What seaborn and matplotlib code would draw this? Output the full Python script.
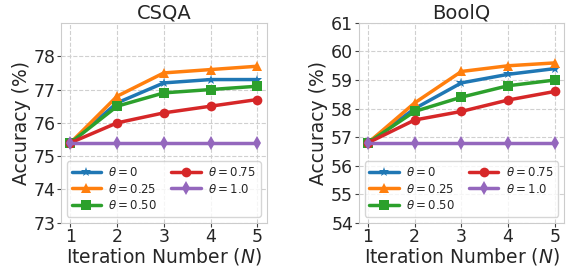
import matplotlib
matplotlib.use("Agg")
import matplotlib.pyplot as plt
import seaborn as sns
import pandas as pd

iterations = [1, 2, 3, 4, 5]
theta_labels = [r"$\theta=0$", r"$\theta=0.25$", r"$\theta=0.50$", r"$\theta=0.75$", r"$\theta=1.0$"]

csqa_t0 = [75.4, 76.6, 77.2, 77.3, 77.3]
csqa_t025 = [75.4, 76.8, 77.5, 77.6, 77.7]
csqa_t050 = [75.4, 76.5, 76.9, 77.0, 77.1]
csqa_t075 = [75.4, 76.0, 76.3, 76.5, 76.7]
csqa_t100 = [75.4, 75.4, 75.4, 75.4, 75.4]

boolq_t0 = [56.8, 58.0, 58.9, 59.2, 59.4]
boolq_t025 = [56.8, 58.2, 59.3, 59.5, 59.6]
boolq_t050 = [56.8, 57.9, 58.4, 58.8, 59.0]
boolq_t075 = [56.8, 57.6, 57.9, 58.3, 58.6]
boolq_t100 = [56.8, 56.8, 56.8, 56.8, 56.8]

csqa_yticks = [73, 74, 75, 76, 77, 78]
boolq_yticks = [54, 55, 56, 57, 58, 59, 60, 61]

sns.set_style("whitegrid", {"grid.linestyle": "--", "grid.color": "#d0d0d0",
                            "axes.edgecolor": "#cccccc", "xtick.bottom": True,
                            "ytick.left": True})
plt.rcParams["font.family"] = ["DejaVu Sans"]

palette = ["#1f77b4", "#ff7f0e", "#2ca02c", "#d62728", "#9467bd"]
markers = ["*", "^", "s", "o", "d"]

def build(series):
    rows = []
    for lab, vals in zip(theta_labels, series):
        for it, v in zip(iterations, vals):
            rows.append({"Iteration": it, "Accuracy": v, "theta": lab})
    return pd.DataFrame(rows)

df_csqa = build([csqa_t0, csqa_t025, csqa_t050, csqa_t075, csqa_t100])
df_boolq = build([boolq_t0, boolq_t025, boolq_t050, boolq_t075, boolq_t100])

fig, axes = plt.subplots(1, 2, figsize=(5.71, 2.70), dpi=100)

for ax, df, title, yt in [(axes[0], df_csqa, "CSQA", csqa_yticks),
                          (axes[1], df_boolq, "BoolQ", boolq_yticks)]:
    sns.lineplot(data=df, x="Iteration", y="Accuracy", hue="theta", style="theta",
                 markers=markers, dashes=False, palette=palette, linewidth=2.5,
                 markersize=7, markeredgewidth=0, ax=ax)
    ax.set_title(title, fontsize=14, pad=3)
    ax.set_xlabel(r"Iteration Number ($N$)", fontsize=13.5, labelpad=0)
    ax.set_ylabel("Accuracy (%)", fontsize=13.5, labelpad=2)
    ax.set_xlim(0.8, 5.2)
    ax.set_ylim(yt[0], yt[-1] + (1 if title == "CSQA" else 0))
    ax.set_yticks(yt)
    ax.set_xticks(iterations)
    ax.tick_params(labelsize=12.5, length=3, pad=1, color="#444444")
    ax.legend(loc="lower left", ncol=2, fontsize=8.5, frameon=True,
              handlelength=2.5, columnspacing=1.2, labelspacing=0.3,
              borderpad=0.4, handletextpad=0.6)

fig.subplots_adjust(left=0.107, right=0.988, top=0.915, bottom=0.175, wspace=0.448)
fig.savefig("out.png", dpi=100)
